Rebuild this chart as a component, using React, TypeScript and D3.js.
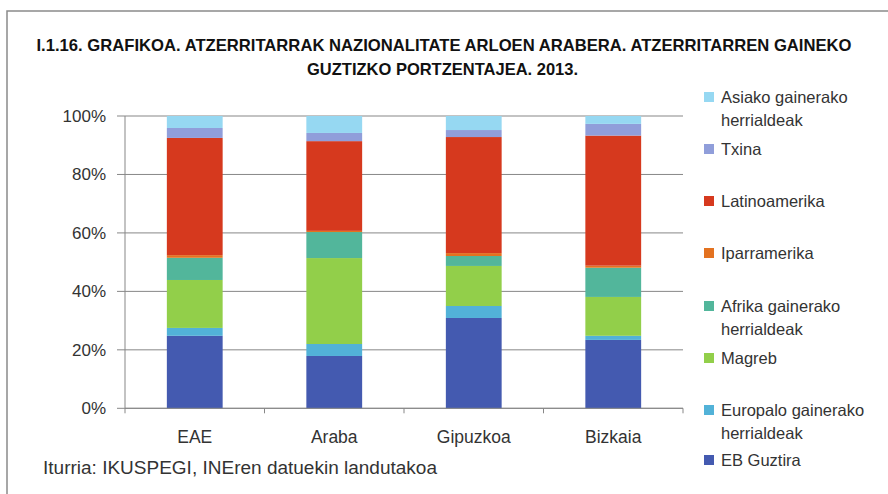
import React from "react";
import * as d3 from "d3";

const categories = ["EAE", "Araba", "Gipuzkoa", "Bizkaia"];

// stacked bottom -> top
const ebGuztira = [24.8, 17.9, 30.9, 23.4];
const europaGainerako = [2.7, 4.1, 4.1, 1.4];
const magreb = [16.4, 29.4, 13.7, 13.3];
const afrikaGainerako = [7.6, 8.9, 3.4, 10.0];
const iparramerika = [0.9, 0.4, 1.0, 0.7];
const latinoamerika = [40.1, 30.7, 39.7, 44.5];
const txina = [3.4, 2.8, 2.4, 4.0];
const asiakoGainerako = [4.1, 5.8, 4.8, 2.7];

const seriesKeys = ["eb", "europa", "magreb", "afrika", "iparra", "latino", "txina", "asia"];
const seriesValues: Record<string, number[]> = {
  eb: ebGuztira,
  europa: europaGainerako,
  magreb: magreb,
  afrika: afrikaGainerako,
  iparra: iparramerika,
  latino: latinoamerika,
  txina: txina,
  asia: asiakoGainerako,
};
const seriesLabels: Record<string, string[]> = {
  eb: ["EB Guztira"],
  europa: ["Europalo gainerako", "herrialdeak"],
  magreb: ["Magreb"],
  afrika: ["Afrika gainerako", "herrialdeak"],
  iparra: ["Iparramerika"],
  latino: ["Latinoamerika"],
  txina: ["Txina"],
  asia: ["Asiako gainerako", "herrialdeak"],
};
const seriesColors: Record<string, string> = {
  eb: "#445ab0",
  europa: "#52b2d8",
  magreb: "#92cf4a",
  afrika: "#52b69b",
  iparra: "#e37220",
  latino: "#d6391e",
  txina: "#909eda",
  asia: "#96d8f2",
};

const yTicks = [0, 20, 40, 60, 80, 100];
const titleLines = [
  "I.1.16. GRAFIKOA. ATZERRITARRAK NAZIONALITATE ARLOEN ARABERA. ATZERRITARREN GAINEKO",
  "GUZTIZKO PORTZENTAJEA. 2013.",
];
const sourceText = "Iturria: IKUSPEGI, INEren datuekin landutakoa";

export default function App() {
  const W = 888;
  const H = 494;
  const left = 125;
  const right = 683;
  const top = 116;
  const bottom = 408.3;

  const x = d3.scaleBand<string>().domain(categories).range([left, right]).padding(0);
  const y = d3.scaleLinear().domain([0, 100]).range([bottom, top]);
  const barW = x.bandwidth() * 0.4;

  const rows = categories.map((c, i) => {
    const r: any = { cat: c };
    seriesKeys.forEach((k) => (r[k] = seriesValues[k][i]));
    return r;
  });
  const stacked = d3.stack<any>().keys(seriesKeys)(rows);

  const font = "'Liberation Sans', Arial, sans-serif";
  const textColor = "#333";
  const gridColor = "#878787";

  const legendOrder = [...seriesKeys].reverse();
  const legendY = [97, 149, 201, 253, 306, 358, 410, 460];

  const boundaries = d3.range(categories.length + 1).map((i) => left + i * x.step());

  return (
    <svg
      width={W}
      height={H}
      style={{ position: "absolute", left: 0, top: 0, background: "#fff" }}
      fontFamily={font}
    >
      <rect x={0} y={0} width={W} height={H} fill="#fff" />
      <rect x={7} y={11} width={W + 20} height={H + 20} fill="none" stroke="#8a8a8a" strokeWidth={1.5} />

      {/* title */}
      <text
        x={36.5}
        y={50.5}
        fontSize={16.5}
        fontWeight="bold"
        fill="#111"
        textLength={815}
        lengthAdjust="spacingAndGlyphs"
      >
        {titleLines[0]}
      </text>
      <text
        x={307}
        y={75}
        fontSize={16.5}
        fontWeight="bold"
        fill="#111"
        textLength={271}
        lengthAdjust="spacingAndGlyphs"
      >
        {titleLines[1]}
      </text>

      {/* gridlines */}
      {yTicks.map((t) => (
        <g key={t}>
          <line x1={117} x2={right} y1={y(t)} y2={y(t)} stroke={gridColor} strokeWidth={1} />
          <text x={106} y={y(t)} dy="0.35em" textAnchor="end" fontSize={17} fill={textColor}>
            {t}%
          </text>
        </g>
      ))}
      <line x1={left} x2={left} y1={top} y2={bottom} stroke={gridColor} strokeWidth={1} />
      {boundaries.map((bx, i) => (
        <line key={i} x1={bx} x2={bx} y1={bottom} y2={bottom + 5} stroke={gridColor} strokeWidth={1} />
      ))}

      {/* bars */}
      {stacked.map((s) => (
        <g key={s.key} fill={seriesColors[s.key]}>
          {s.map((d, i) => (
            <rect
              key={i}
              x={(x(categories[i]) as number) + (x.bandwidth() - barW) / 2}
              y={y(d[1])}
              width={barW}
              height={y(d[0]) - y(d[1])}
            />
          ))}
        </g>
      ))}
      <line x1={left} x2={right} y1={bottom} y2={bottom} stroke={gridColor} strokeWidth={1} />

      {/* category labels */}
      {categories.map((c) => (
        <text
          key={c}
          x={(x(c) as number) + x.bandwidth() / 2}
          y={437}
          dy="0.35em"
          textAnchor="middle"
          fontSize={17.5}
          fill={textColor}
        >
          {c}
        </text>
      ))}

      {/* source */}
      <text
        x={43}
        y={468}
        dy="0.35em"
        fontSize={17.5}
        fill={textColor}
        textLength={394}
        lengthAdjust="spacingAndGlyphs"
      >
        {sourceText}
      </text>

      {/* legend */}
      {legendOrder.map((k, i) => (
        <g key={k}>
          <rect x={704} y={legendY[i] - 5} width={10} height={10} fill={seriesColors[k]} />
          {seriesLabels[k].map((ln, j) => (
            <text key={j} x={721} y={legendY[i] + j * 23} dy="0.35em" fontSize={16.5} fill={textColor}>
              {ln}
            </text>
          ))}
        </g>
      ))}
    </svg>
  );
}
